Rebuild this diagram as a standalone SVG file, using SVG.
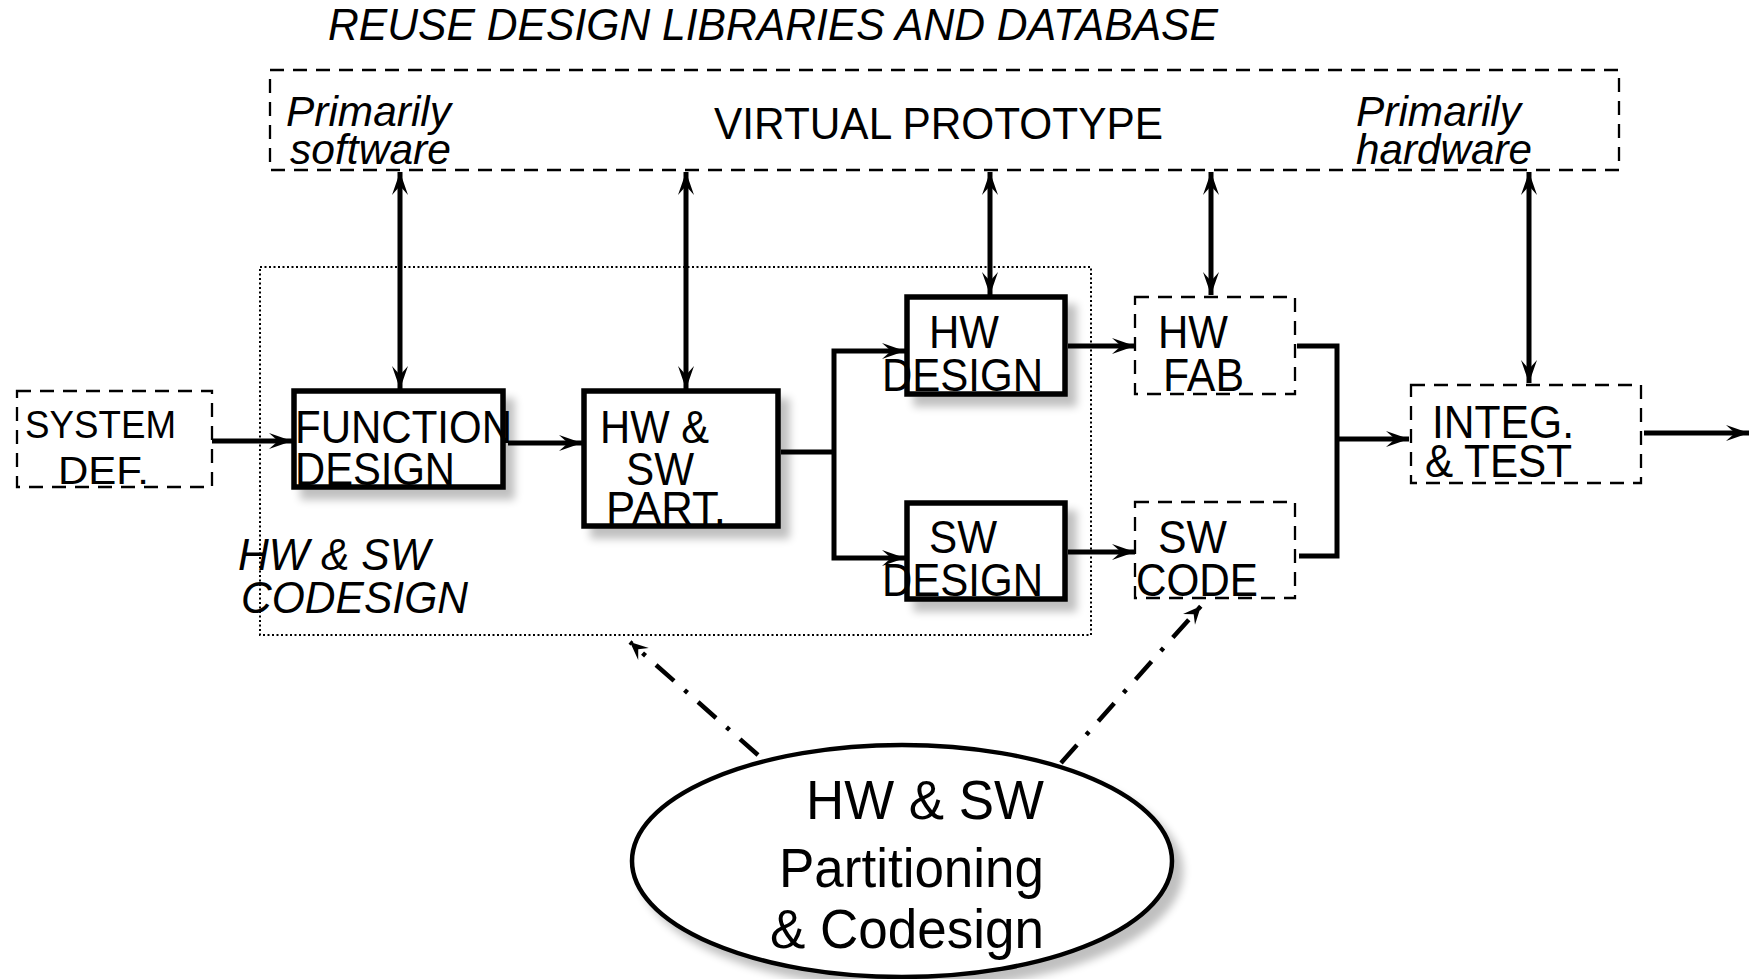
<svg xmlns="http://www.w3.org/2000/svg" width="1760" height="979" viewBox="0 0 1760 979">
  <style>
    text { font-family: "Liberation Sans", Arial, sans-serif; fill: #000; }
    .it { font-style: italic; }
    .lbl { font-size: 46px; }
    .sm { font-size: 39px; }
    .solid { fill: #fff; stroke: #000; stroke-width: 5.5; }
    .dash { fill: none; stroke: #000; stroke-width: 2.3; stroke-dasharray: 14 9; }
    .dot { fill: none; stroke: #000; stroke-width: 2; stroke-dasharray: 2 2.5; }
    .wire { fill: none; stroke: #000; stroke-width: 5; }
    .dd { fill: none; stroke: #000; stroke-width: 4.5; stroke-dasharray: 24 14 4 14; }
  </style>
  <defs>
    <marker id="arr" markerUnits="userSpaceOnUse" markerWidth="26" markerHeight="20" viewBox="-24 -10 26 20" refX="0" refY="0" orient="auto-start-reverse">
      <path d="M0,0 L-23,-8 L-14,0 L-23,8 Z" fill="#000"/>
    </marker>
    <marker id="arrS" markerUnits="userSpaceOnUse" markerWidth="22" markerHeight="18" viewBox="-20 -9 22 18" refX="0" refY="0" orient="auto">
      <path d="M0,0 L-18,-8 L-11,0 L-18,8 Z" fill="#000"/>
    </marker>
    <filter id="shadow" x="-20%" y="-20%" width="150%" height="150%">
      <feGaussianBlur in="SourceAlpha" stdDeviation="4"/>
      <feOffset dx="9" dy="10" result="b"/>
      <feComponentTransfer><feFuncA type="linear" slope="0.25"/></feComponentTransfer>
      <feMerge><feMergeNode/><feMergeNode in="SourceGraphic"/></feMerge>
    </filter>
  </defs>

  <rect width="1760" height="979" fill="#fff"/>

  <!-- reuse libraries band -->
  <g id="reuse">
    <text class="it" x="328" y="40" font-size="44" textLength="890" lengthAdjust="spacingAndGlyphs">REUSE DESIGN LIBRARIES AND DATABASE</text>
  </g>
  <g id="virtual-prototype">
    <rect class="dash" x="270" y="70" width="1349" height="100"/>
    <text class="it" x="286" y="126" font-size="43" textLength="165" lengthAdjust="spacingAndGlyphs">Primarily</text>
    <text class="it" x="290" y="164" font-size="43" textLength="161" lengthAdjust="spacingAndGlyphs">software</text>
    <text x="714" y="139" font-size="45" textLength="449" lengthAdjust="spacingAndGlyphs">VIRTUAL PROTOTYPE</text>
    <text class="it" x="1356" y="126" font-size="43" textLength="165" lengthAdjust="spacingAndGlyphs">Primarily</text>
    <text class="it" x="1356" y="164" font-size="43" textLength="176" lengthAdjust="spacingAndGlyphs">hardware</text>
  </g>

  <!-- codesign region -->
  <g id="codesign">
    <rect class="dot" x="260" y="267" width="831" height="368"/>
    <text class="it" x="238" y="570" font-size="44" textLength="192" lengthAdjust="spacingAndGlyphs">HW &amp; SW</text>
    <text class="it" x="241" y="613" font-size="44" textLength="227" lengthAdjust="spacingAndGlyphs">CODESIGN</text>
  </g>

  <g id="system-def">
    <rect class="dash" x="17" y="391" width="195" height="96"/>
    <text class="sm" x="25" y="438" textLength="151" lengthAdjust="spacingAndGlyphs">SYSTEM</text>
    <text class="sm" x="58" y="484" textLength="91" lengthAdjust="spacingAndGlyphs">DEF.</text>
  </g>

  <g id="function-design">
    <rect class="solid" x="294" y="391" width="209" height="96" filter="url(#shadow)"/>
    <text class="lbl" x="295" y="443" textLength="217" lengthAdjust="spacingAndGlyphs">FUNCTION</text>
    <text class="lbl" x="295" y="485" textLength="160" lengthAdjust="spacingAndGlyphs">DESIGN</text>
  </g>

  <g id="hw-sw-part">
    <rect class="solid" x="584" y="391" width="194" height="135" filter="url(#shadow)"/>
    <text class="lbl" x="600" y="443" textLength="109" lengthAdjust="spacingAndGlyphs">HW &amp;</text>
    <text class="lbl" x="626" y="485" textLength="68" lengthAdjust="spacingAndGlyphs">SW</text>
    <text class="lbl" x="606" y="524" textLength="120" lengthAdjust="spacingAndGlyphs">PART.</text>
  </g>

  <g id="hw-design">
    <rect class="solid" x="907" y="297" width="158" height="97" filter="url(#shadow)"/>
    <text class="lbl" x="929" y="348" textLength="70" lengthAdjust="spacingAndGlyphs">HW</text>
    <text class="lbl" x="882" y="391" textLength="161" lengthAdjust="spacingAndGlyphs">DESIGN</text>
  </g>

  <g id="sw-design">
    <rect class="solid" x="907" y="503" width="158" height="96" filter="url(#shadow)"/>
    <text class="lbl" x="929" y="553" textLength="68" lengthAdjust="spacingAndGlyphs">SW</text>
    <text class="lbl" x="882" y="596" textLength="161" lengthAdjust="spacingAndGlyphs">DESIGN</text>
  </g>

  <g id="hw-fab">
    <rect class="dash" x="1135" y="297" width="160" height="97"/>
    <text class="lbl" x="1158" y="348" textLength="70" lengthAdjust="spacingAndGlyphs">HW</text>
    <text class="lbl" x="1163" y="391" textLength="81" lengthAdjust="spacingAndGlyphs">FAB</text>
  </g>

  <g id="sw-code">
    <rect class="dash" x="1135" y="502" width="160" height="96"/>
    <text class="lbl" x="1158" y="553" textLength="69" lengthAdjust="spacingAndGlyphs">SW</text>
    <text class="lbl" x="1136" y="596" textLength="122" lengthAdjust="spacingAndGlyphs">CODE</text>
  </g>

  <g id="integ-test">
    <rect class="dash" x="1411" y="385" width="230" height="98"/>
    <text class="lbl" x="1432" y="438" textLength="142" lengthAdjust="spacingAndGlyphs">INTEG.</text>
    <text class="lbl" x="1425" y="477" textLength="147" lengthAdjust="spacingAndGlyphs">&amp; TEST</text>
  </g>

  <g id="partitioning">
    <ellipse cx="902" cy="861" rx="270" ry="116" fill="#fff" stroke="#000" stroke-width="4.5" filter="url(#shadow)"/>
    <text x="1044" y="819" font-size="56" text-anchor="end" textLength="238" lengthAdjust="spacingAndGlyphs">HW &amp; SW</text>
    <text x="1044" y="887" font-size="56" text-anchor="end" textLength="265" lengthAdjust="spacingAndGlyphs">Partitioning</text>
    <text x="1044" y="948" font-size="56" text-anchor="end" textLength="274" lengthAdjust="spacingAndGlyphs">&amp; Codesign</text>
  </g>

  <!-- connectors -->
  <g id="connectors">
    <!-- links to the virtual prototype -->
    <path class="wire" d="M400,172 V389" marker-start="url(#arr)" marker-end="url(#arr)"/>
    <path class="wire" d="M686,172 V389" marker-start="url(#arr)" marker-end="url(#arr)"/>
    <path class="wire" d="M990,172 V295" marker-start="url(#arr)" marker-end="url(#arr)"/>
    <path class="wire" d="M1211,172 V295" marker-start="url(#arr)" marker-end="url(#arr)"/>
    <path class="wire" d="M1529,172 V383" marker-start="url(#arr)" marker-end="url(#arr)"/>

    <!-- main flow -->
    <path class="wire" d="M212,441 H292" marker-end="url(#arr)"/>
    <path class="wire" d="M508,443 H582" marker-end="url(#arr)"/>
    <path class="wire" d="M781,452 H834"/>
    <path class="wire" d="M834,452 V351 H905" marker-end="url(#arr)"/>
    <path class="wire" d="M834,452 V558 H905" marker-end="url(#arr)"/>
    <path class="wire" d="M1068,346 H1135" marker-end="url(#arr)"/>
    <path class="wire" d="M1068,552 H1135" marker-end="url(#arr)"/>
    <path class="wire" d="M1297,346 H1337 V556 H1299"/>
    <path class="wire" d="M1337,439 H1409" marker-end="url(#arr)"/>
    <path class="wire" d="M1644,433 H1749" marker-end="url(#arr)"/>

    <!-- partitioning influence -->
    <path class="dd" d="M758,755 L630,642" marker-end="url(#arrS)"/>
    <path class="dd" d="M1061,763 L1201,606" marker-end="url(#arrS)"/>
  </g>
</svg>
